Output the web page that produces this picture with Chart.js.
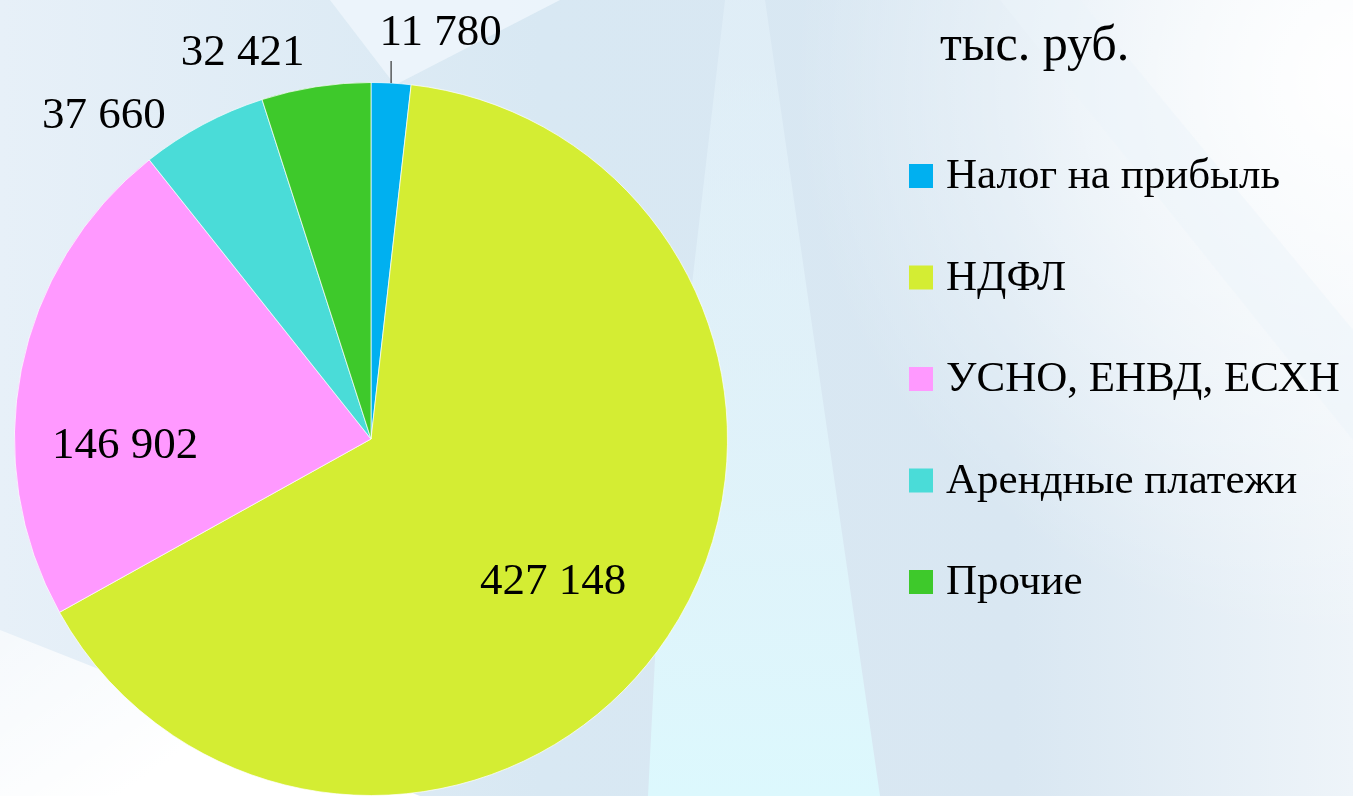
<!DOCTYPE html>
<html>
<head>
<meta charset="utf-8">
<script src="https://cdn.jsdelivr.net/npm/chart.js@4"></script>
<style>
  html, body { margin: 0; padding: 0; width: 1353px; height: 796px; overflow: hidden; }
  #wrap { position: relative; width: 1353px; height: 796px; }
</style>
</head>
<body>
<div id="wrap"><canvas id="taxchart" width="1353" height="796"></canvas></div>
<script>
const labels = ["Налог на прибыль", "НДФЛ", "УСНО, ЕНВД, ЕСХН", "Арендные платежи", "Прочие"];
const values = [11780, 427148, 146902, 37660, 32421];
const valueText = ["11 780", "427 148", "146 902", "37 660", "32 421"];
const colors = ["#00b0f0", "#d4ed33", "#ff99ff", "#4adcd8", "#3ec92b"];
const unitText = "тыс. руб.";

// label placement: radius factor and angle shift (deg) from slice middle
const labelPlace = [
  { r: 1.155, shift: 6.5, leader: true },
  { r: 0.65, shift: 4.5 },
  { r: 0.69, shift: -13 },
  { r: 1.175, shift: -11.5 },
  { r: 1.14, shift: -9.5 },
];

const serif = "'Liberation Serif', 'Times New Roman', serif";

const background = {
  id: "background",
  beforeDraw(chart) {
    const ctx = chart.ctx;
    const w = chart.width, h = chart.height;
    ctx.save();
    let g = ctx.createLinearGradient(0, 0, w, 0);
    g.addColorStop(0, "#e7f0f8");
    g.addColorStop(0.4, "#d8e8f3");
    g.addColorStop(0.75, "#d9e7f2");
    g.addColorStop(1, "#eef4f9");
    ctx.fillStyle = g;
    ctx.fillRect(0, 0, w, h);

    // lighter wedge near top middle
    ctx.fillStyle = "rgba(238,246,252,0.85)";
    ctx.beginPath();
    ctx.moveTo(330, 0); ctx.lineTo(560, 0); ctx.lineTo(395, 85); ctx.closePath();
    ctx.fill();

    // pale cyan strip right of the pie
    g = ctx.createLinearGradient(0, 0, 0, h);
    g.addColorStop(0, "rgba(232,244,251,0.45)");
    g.addColorStop(0.6, "rgba(226,246,252,0.75)");
    g.addColorStop(1, "rgba(220,248,253,1)");
    ctx.fillStyle = g;
    ctx.beginPath();
    ctx.moveTo(725, 0); ctx.lineTo(765, 0); ctx.lineTo(880, 796); ctx.lineTo(648, 796);
    ctx.lineTo(660, 560); ctx.closePath();
    ctx.fill();

    // whitish glow top right
    g = ctx.createRadialGradient(1353, 80, 20, 1353, 80, 560);
    g.addColorStop(0, "rgba(255,255,255,0.95)");
    g.addColorStop(1, "rgba(255,255,255,0)");
    ctx.fillStyle = g;
    ctx.fillRect(760, 0, w - 760, h);

    // soft diagonal stripe on right
    ctx.fillStyle = "rgba(235,243,250,0.5)";
    ctx.beginPath();
    ctx.moveTo(1000, 0); ctx.lineTo(1080, 0); ctx.lineTo(1353, 330); ctx.lineTo(1353, 440); ctx.closePath();
    ctx.fill();

    // white area bottom left
    g = ctx.createLinearGradient(0, 630, 120, 796);
    g.addColorStop(0, "rgba(255,255,255,0.6)");
    g.addColorStop(1, "rgba(255,255,255,1)");
    ctx.fillStyle = g;
    ctx.beginPath();
    ctx.moveTo(0, 630); ctx.lineTo(420, 796); ctx.lineTo(0, 796); ctx.closePath();
    ctx.fill();
    ctx.restore();
  },
};

const valueLabels = {
  id: "valueLabels",
  afterDatasetsDraw(chart) {
    const ctx = chart.ctx;
    const arcs = chart.getDatasetMeta(0).data;
    ctx.save();
    ctx.fillStyle = "#000";
    ctx.textAlign = "center";
    ctx.textBaseline = "middle";
    ctx.font = "45px " + serif;
    arcs.forEach((arc, i) => {
      const p = labelPlace[i];
      const mid = (arc.startAngle + arc.endAngle) / 2;
      const a = mid + (p.shift * Math.PI) / 180;
      const x = arc.x + Math.cos(a) * arc.outerRadius * p.r;
      const y = arc.y + Math.sin(a) * arc.outerRadius * p.r;
      ctx.fillText(valueText[i], x, y);
      if (p.leader) {
        const ex = arc.x + Math.cos(mid) * arc.outerRadius;
        const ey = arc.y + Math.sin(mid) * arc.outerRadius;
        ctx.strokeStyle = "#333";
        ctx.lineWidth = 1.2;
        ctx.beginPath();
        ctx.moveTo(ex, ey);
        ctx.lineTo(ex, ey - 22);
        ctx.stroke();
      }
    });

    // unit caption
    ctx.textAlign = "left";
    ctx.textBaseline = "alphabetic";
    ctx.font = "50px " + serif;
    ctx.fillText(unitText, 940, 60);

    // legend
    ctx.font = "43px " + serif;
    ctx.textBaseline = "middle";
    labels.forEach((lab, i) => {
      const cy = 176 + i * 101.5;
      ctx.fillStyle = colors[i];
      ctx.fillRect(909, cy - 12, 24, 24);
      ctx.fillStyle = "#000";
      ctx.fillText(lab, 946, cy + 1);
    });
    ctx.restore();
  },
};

new Chart(document.getElementById("taxchart"), {
  type: "pie",
  data: {
    labels: labels,
    datasets: [
      {
        data: values,
        backgroundColor: colors,
        borderColor: "rgba(255,255,255,0.7)",
        borderWidth: 1,
      },
    ],
  },
  options: {
    responsive: false,
    animation: false,
    layout: { padding: { left: 14, right: 625, top: 82, bottom: 0 } },
    plugins: {
      legend: { display: false },
      tooltip: { enabled: false },
    },
  },
  plugins: [background, valueLabels],
});
</script>
</body>
</html>
